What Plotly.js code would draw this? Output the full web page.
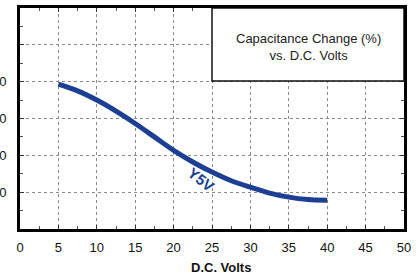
<!DOCTYPE html>
<html>
<head>
<meta charset="utf-8">
<script src="https://cdn.plot.ly/plotly-3.0.1.min.js"></script>
<style>html,body{margin:0;padding:0;background:#fff;}</style>
</head>
<body>
<div id="chart" style="width:419px;height:276px;"></div>
<script>
// Data
const volts = [5, 7.5, 10, 12.5, 15, 17.5, 20, 22.5, 25, 27.5, 30, 32.5, 35, 37.5, 40];
const capChange = [-21.4, -25, -30, -36, -42.7, -50, -57.3, -63.6, -69.1, -73.8, -77.3, -80.5, -82.7, -84, -84.4];
const xTicks = [0, 5, 10, 15, 20, 25, 30, 35, 40, 45, 50];
const yTicks = [20, 0, -20, -40, -60, -80, -100];
const yTickText = ["", "", "-20", "-40", "-60", "-80", ""];
const seriesName = "Y5V";
const boxTitle = "Capacitance Change (%)<br>vs. D.C. Volts";
const xTitle = "D.C. Volts";

const trace = {
  x: volts, y: capChange, type: "scatter", mode: "lines",
  line: {color: "#1d3f93", width: 5, shape: "spline", smoothing: 0.8},
  hoverinfo: "skip"
};

const axisCommon = {
  showline: true, linecolor: "#000", linewidth: 3, mirror: "allticks",
  ticks: "inside", ticklen: 4, tickcolor: "#333", tickwidth: 1,
  showgrid: true, gridcolor: "#8a8a8a", griddash: "dot", gridwidth: 1,
  zeroline: false, fixedrange: true,
  tickfont: {family: "Liberation Sans, Arial, sans-serif", size: 13, color: "#111"}
};

const layout = {
  width: 419, height: 276,
  margin: {l: 20, r: 15, t: 8, b: 47},
  paper_bgcolor: "#fff", plot_bgcolor: "#fff",
  showlegend: false,
  xaxis: Object.assign({}, axisCommon, {
    range: [0, 50], tickvals: xTicks,
    minor: {dtick: 2.5, ticks: "inside", ticklen: 3, tickcolor: "#555", showgrid: false},
    ticklabelstandoff: 4
  }),
  yaxis: Object.assign({}, axisCommon, {
    range: [-100, 20], tickvals: yTicks, ticktext: yTickText,
    minor: {dtick: 10, ticks: "inside", ticklen: 3, tickcolor: "#555", showgrid: false},
    ticklabelstandoff: 8
  }),
  shapes: [{
    type: "rect", xref: "x", yref: "y", x0: 25, x1: 50, y0: -19.6, y1: 20,
    fillcolor: "#fff", line: {color: "#111", width: 1.5}, layer: "above"
  }],
  annotations: [
    {x: 37.5, y: -1.2, xref: "x", yref: "y", text: boxTitle, showarrow: false,
     font: {family: "Liberation Sans, Arial, sans-serif", size: 13, color: "#222"}, align: "center"},
    {x: 23.6, y: -73.1, xref: "x", yref: "y", text: "<b>" + seriesName + "</b>", showarrow: false,
     textangle: 38, font: {family: "Liberation Sans, Arial, sans-serif", size: 15, color: "#1d3f93"}},
    {x: 0.523, y: -0.176, xref: "paper", yref: "paper", text: "<b>" + xTitle + "</b>", showarrow: false,
     yanchor: "middle", font: {family: "Liberation Sans, Arial, sans-serif", size: 13, color: "#111"}}
  ]
};

Plotly.newPlot("chart", [trace], layout, {displayModeBar: false, staticPlot: true});
</script>
</body>
</html>
